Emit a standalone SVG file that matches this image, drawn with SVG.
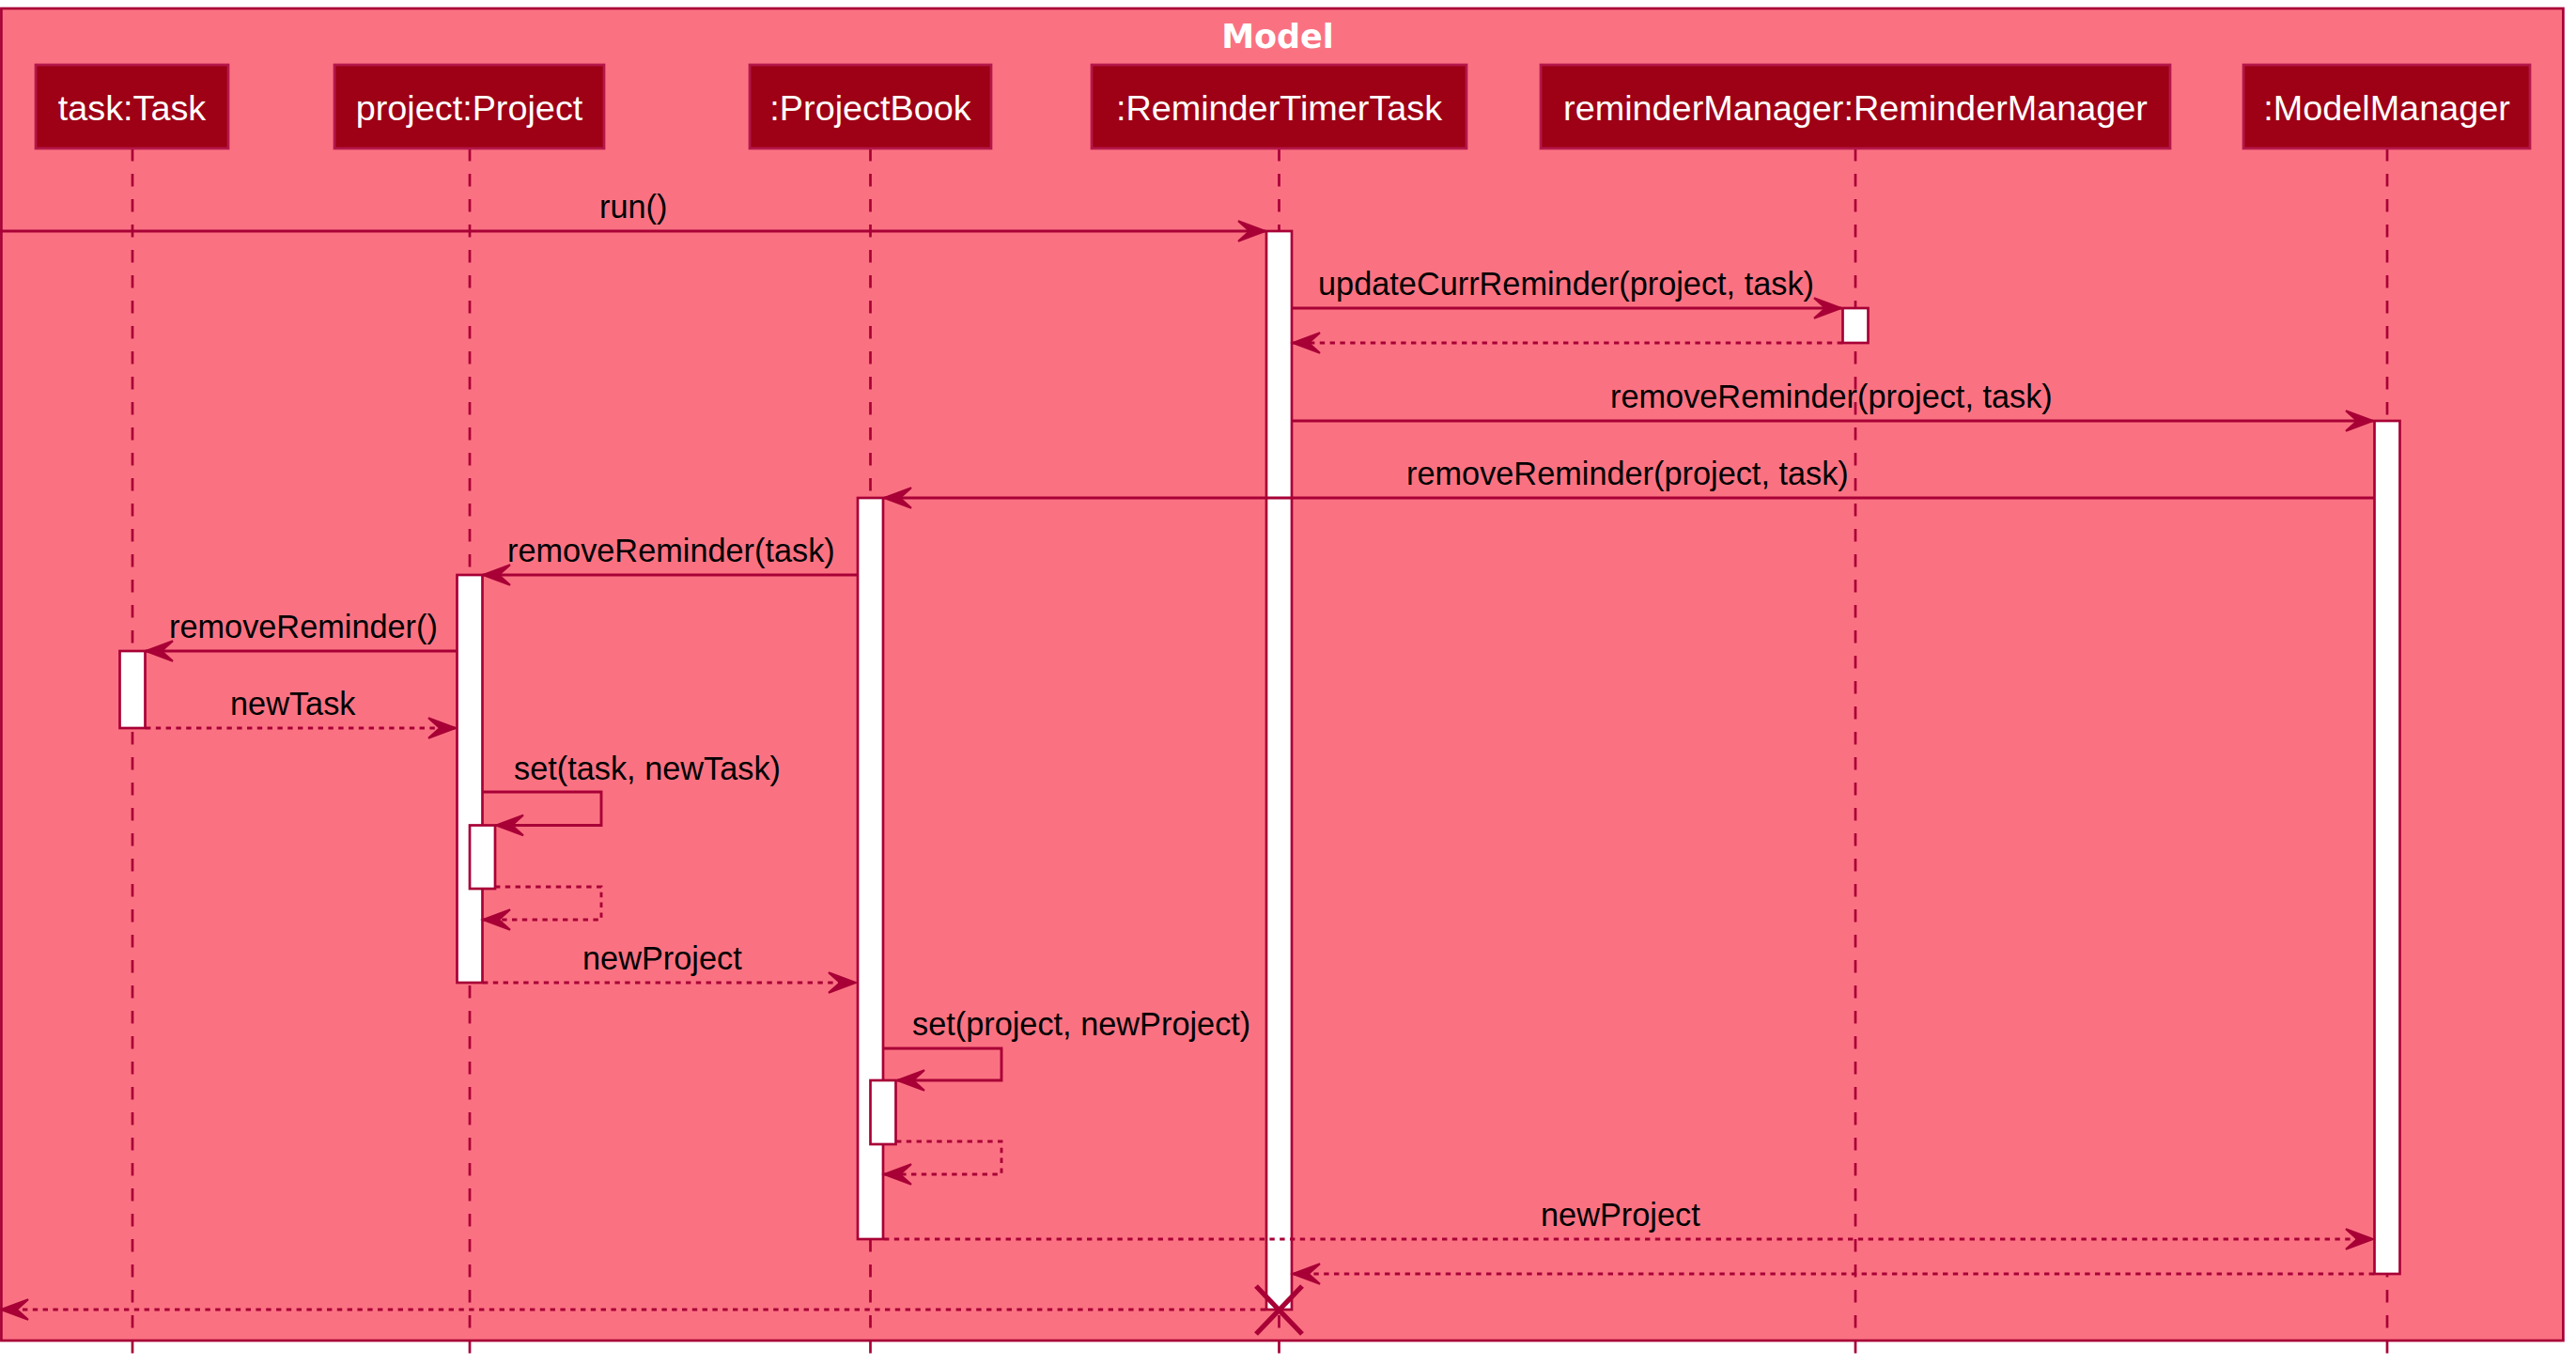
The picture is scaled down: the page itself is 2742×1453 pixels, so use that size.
<svg xmlns="http://www.w3.org/2000/svg" width="2742" height="1453" viewBox="0 0 2742 1453">
<defs>
<style>
.frame{fill:#FA7282;stroke:#A80036;stroke-width:2.7}
.title{font-family:"DejaVu Sans",Verdana,sans-serif;font-weight:bold;font-size:35px;fill:#FFFFFF}
.pbox{fill:#9E0016;stroke:#B5174A;stroke-width:2.7}
.ptext{font-family:"Liberation Sans",Arial,sans-serif;font-size:37.8px;fill:#FFFFFF;text-anchor:middle}
.life{stroke:#A80036;stroke-width:2.7;stroke-dasharray:13.5,13.5;fill:none}
.act{fill:#FFFFFF;stroke:#A80036;stroke-width:2.7}
.msg{stroke:#A80036;stroke-width:2.9;fill:none;marker-end:url(#ah)}
.ret{stroke:#A80036;stroke-width:2.9;fill:none;stroke-dasharray:5.4,5.4;marker-end:url(#ah)}
.lbl{font-family:"Liberation Sans",Arial,sans-serif;font-size:34.3px;fill:#000000}
.kill{stroke:#A80036;stroke-width:5.4;fill:none}
</style>
<marker id="ah" markerUnits="userSpaceOnUse" markerWidth="34" markerHeight="26" refX="30" refY="12" orient="auto">
<path d="M1,1.2 L30,12 L1,22.8 L13,12 Z" fill="#A80036" stroke="#A80036" stroke-width="2"/>
</marker>
</defs>

<g id="frame">
<rect class="frame" x="1.4" y="9" width="2727" height="1418"/>
<text class="title" x="1360" y="51" text-anchor="middle">Model</text>
</g>

<g id="lifelines">
<line class="life" x1="141" y1="158" x2="141" y2="1443"/>
<line class="life" x1="500" y1="158" x2="500" y2="1443"/>
<line class="life" x1="926.5" y1="158" x2="926.5" y2="1443"/>
<line class="life" x1="1361.5" y1="158" x2="1361.5" y2="1443"/>
<line class="life" x1="1975" y1="158" x2="1975" y2="1443"/>
<line class="life" x1="2541" y1="158" x2="2541" y2="1443"/>
</g>

<g id="task">
<rect class="pbox" x="38" y="69" width="205" height="89"/>
<text class="ptext" x="140.5" y="128">task:Task</text>
<rect class="act" x="127.5" y="693" width="27" height="82"/>
</g>

<g id="project">
<rect class="pbox" x="356" y="69" width="287" height="89"/>
<text class="ptext" x="499.5" y="128">project:Project</text>
<rect class="act" x="486.5" y="612" width="27" height="434"/>
<rect class="act" x="500" y="878.5" width="27" height="67.5"/>
</g>

<g id="projectbook">
<rect class="pbox" x="798" y="69" width="257" height="89"/>
<text class="ptext" x="926.5" y="128">:ProjectBook</text>
<rect class="act" x="913" y="530" width="27" height="789"/>
<rect class="act" x="926.5" y="1150" width="27" height="68"/>
</g>

<g id="remindertimertask">
<rect class="pbox" x="1162" y="69" width="399" height="89"/>
<text class="ptext" x="1361.5" y="128">:ReminderTimerTask</text>
<rect class="act" x="1348" y="246" width="27" height="1148"/>
</g>

<g id="remindermanager">
<rect class="pbox" x="1640" y="69" width="670" height="89"/>
<text class="ptext" x="1975" y="128">reminderManager:ReminderManager</text>
<rect class="act" x="1961.5" y="328" width="27" height="37"/>
</g>

<g id="modelmanager">
<rect class="pbox" x="2388" y="69" width="305" height="89"/>
<text class="ptext" x="2540.5" y="128">:ModelManager</text>
<rect class="act" x="2527.5" y="448" width="27" height="908"/>
</g>

<g id="connectors">
<line class="msg" x1="0" y1="246" x2="1347" y2="246"/>
<text class="lbl" x="638" y="232">run()</text>

<line class="msg" x1="1375" y1="328" x2="1960" y2="328"/>
<text class="lbl" x="1403" y="314">updateCurrReminder(project, task)</text>
<line class="ret" x1="1961" y1="365" x2="1376" y2="365"/>

<line class="msg" x1="1375" y1="448" x2="2526" y2="448"/>
<text class="lbl" x="1714" y="434">removeReminder(project, task)</text>

<line class="msg" x1="2527" y1="530" x2="941" y2="530"/>
<text class="lbl" x="1497" y="516">removeReminder(project, task)</text>

<line class="msg" x1="913" y1="612" x2="514" y2="612"/>
<text class="lbl" x="540" y="598">removeReminder(task)</text>

<line class="msg" x1="486" y1="693" x2="155" y2="693"/>
<text class="lbl" x="180" y="679">removeReminder()</text>

<line class="ret" x1="155" y1="775" x2="485" y2="775"/>
<text class="lbl" x="245" y="761">newTask</text>

<path class="msg" d="M514,843 H640 V878.5 H528"/>
<text class="lbl" x="547" y="830">set(task, newTask)</text>
<path class="ret" d="M527,944 H640 V979 H514"/>

<line class="ret" x1="514" y1="1046" x2="911" y2="1046"/>
<text class="lbl" x="620" y="1032">newProject</text>

<path class="msg" d="M940,1116 H1066 V1150 H955"/>
<text class="lbl" x="971" y="1102">set(project, newProject)</text>
<path class="ret" d="M954,1215 H1066 V1250 H941"/>

<line class="ret" x1="941" y1="1319" x2="2526" y2="1319"/>
<text class="lbl" x="1640" y="1305">newProject</text>

<line class="ret" x1="2527" y1="1356" x2="1376" y2="1356"/>

<line class="ret" x1="1347" y1="1394" x2="1" y2="1394"/>

<path class="kill" d="M1337,1369 L1386,1420 M1386,1369 L1337,1420"/>
</g>
</svg>
